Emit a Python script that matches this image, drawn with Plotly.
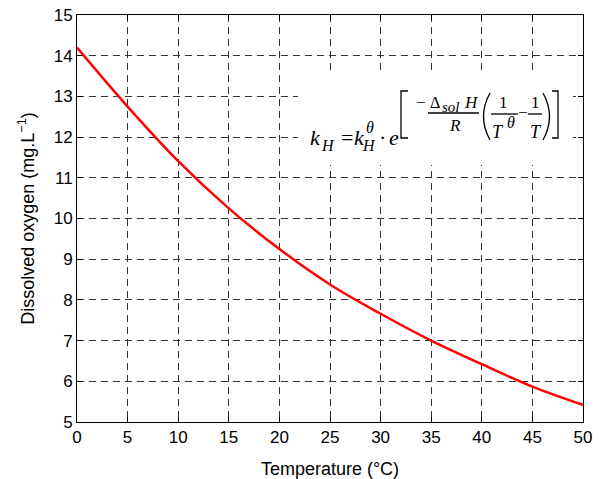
import plotly.graph_objects as go

# ---- data ----
temperature = [0, 5, 10, 15, 20, 25, 30, 35, 40, 45, 50]
dissolved_o2 = [14.2, 12.75, 11.41, 10.25, 9.25, 8.38, 7.66, 7.0, 6.42, 5.87, 5.42]
x_ticks = list(range(0, 51, 5))
y_ticks = list(range(5, 16, 1))

# page offset from the default body margin of the html page
OFF = 8
W, H = 614 - OFF, 479 - OFF
# plot area in page pixels
PX0, PX1, PY0, PY1 = 77, 583, 15, 422
L, R = PX0 - OFF, W - (PX1 - OFF)
T, B = PY0 - OFF, H - (PY1 - OFF)
PW, PH = PX1 - PX0, PY1 - PY0


def pxx(x):
    return (x - PX0) / PW


def pxy(y):
    return (PY1 - y) / PH


fig = go.Figure()
fig.add_trace(go.Scatter(
    x=temperature, y=dissolved_o2, mode="lines",
    line=dict(color="#ff0000", width=2.5, shape="spline", smoothing=1.0),
    hoverinfo="skip", showlegend=False,
))

serif = "Liberation Serif"
annotations = []


def glyph(text, xc, baseline, size, italic=False):
    t = f"<i>{text}</i>" if italic else text
    annotations.append(dict(
        text=t, x=pxx(xc), y=pxy(baseline - 0.34 * size), xref="paper", yref="paper",
        xanchor="center", yanchor="middle", showarrow=False,
        font=dict(family=serif, size=size, color="black"),
    ))


glyph("k", 315, 145, 22, True)
glyph("H", 328, 151, 16, True)
glyph("=", 347, 145, 22)
glyph("k", 359, 145, 22, True)
glyph("θ", 370, 133, 16, True)
glyph("H", 369, 151, 16, True)
glyph("·", 382, 145, 22)
glyph("e", 394, 145, 22, True)
glyph("−", 421, 108, 17)
glyph("Δ", 435, 108, 16)
glyph("sol", 451, 112, 15, True)
glyph("H", 471, 108, 17, True)
glyph("R", 455, 131, 17, True)
glyph("1", 503, 108, 17)
glyph("T", 498, 138, 18, True)
glyph("θ", 511, 128, 16, True)
glyph("−", 523, 118, 17)
glyph("1", 535, 108, 17)
glyph("T", 536, 138, 18, True)

shapes = []
# white box behind the formula
shapes.append(dict(type="rect", xref="paper", yref="paper",
                   x0=pxx(298), x1=pxx(573), y0=pxy(165), y1=pxy(73),
                   fillcolor="white", line=dict(width=0), layer="above"))


def path(points_str):
    shapes.append(dict(type="path", xref="paper", yref="paper", path=points_str,
                       line=dict(color="black", width=1.3), layer="above"))


def P(x, y):
    return f"{pxx(x):.5f},{pxy(y):.5f}"


path(f"M {P(408,91)} L {P(401,91)} L {P(401,138)} L {P(408,138)}")
path(f"M {P(552,91)} L {P(558,91)} L {P(558,138)} L {P(552,138)}")
path(f"M {P(490,93)} Q {P(477,116.5)} {P(490,140)}")
path(f"M {P(543,93)} Q {P(556,116.5)} {P(543,140)}")
# fraction bars
path(f"M {P(428,113)} L {P(479,113)}")
path(f"M {P(491,114)} L {P(518,114)}")
path(f"M {P(528,114)} L {P(542,114)}")

axis_common = dict(
    showline=True, linecolor="black", linewidth=1, mirror="allticks",
    ticks="inside", ticklen=5, tickcolor="black", ticklabeloverflow="allow",
    showgrid=True, gridcolor="#333333", gridwidth=1, griddash="7px,5px",
    zeroline=False, tickfont=dict(family="Liberation Sans", size=17, color="black"),
)

fig.update_layout(
    width=W, height=H,
    margin=dict(l=L, r=R, t=T, b=B),
    paper_bgcolor="white", plot_bgcolor="white",
    xaxis=dict(range=[0, 50], tickvals=x_ticks, automargin=False,
               title=dict(text="Temperature (°C)", standoff=15,
                          font=dict(family="Liberation Sans", size=18, color="black")),
               **axis_common),
    yaxis=dict(range=[5, 15], tickvals=y_ticks, automargin=False,
               title=dict(text="Dissolved oxygen (mg.L<sup>−1</sup>)", standoff=14,
                          font=dict(family="Liberation Sans", size=18, color="black")),
               **axis_common),
    annotations=annotations,
    shapes=shapes,
)

fig.write_html("out.html")
